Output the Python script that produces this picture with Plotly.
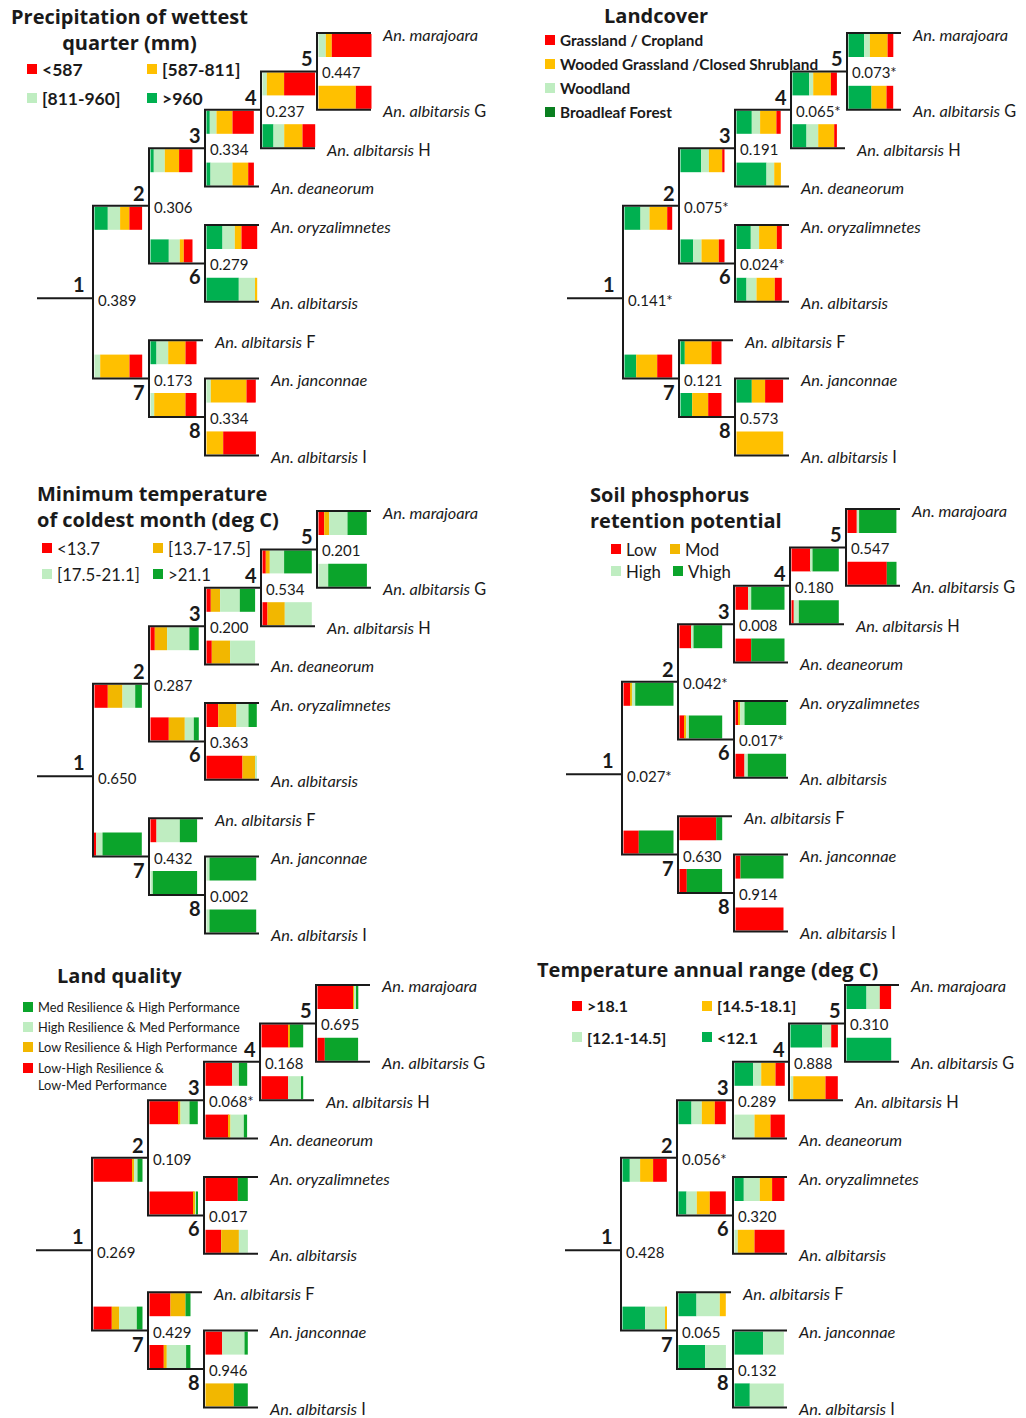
import plotly.graph_objects as go

FIG_W, FIG_H = 1026, 1418

# ---------------- tree topology ----------------
ROOT = 1
TREE_NODES = [1, 2, 3, 4, 5, 6, 7, 8]
TREE_CHILDREN = {
    1: (2, 7),
    2: (3, 6),
    3: (4, "An. deaneorum"),
    4: (5, "An. albitarsis H"),
    5: ("An. marajoara", "An. albitarsis G"),
    6: ("An. oryzalimnetes", "An. albitarsis"),
    7: ("An. albitarsis F", 8),
    8: ("An. janconnae", "An. albitarsis I"),
}
# bar order: for each node 1..8 -> (upper child branch, lower child branch)
BRANCH_ORDER = [(n, c) for n in TREE_NODES for c in TREE_CHILDREN[n]]

# ---------------- data (segment lengths) ----------------
# Precipitation of wettest quarter (mm)
precip_cats = [">960", "[811-960]", "[587-811]", "<587"]
precip_gt960 = [13.3, 0, 3.3, 18.3, 3.3, 4, 0, 11, 0, 0, 16, 32.3, 6, 0, 0, 0]
precip_811_960 = [12.3, 5.7, 11, 11, 6.7, 22, 4.3, 10.7, 7.3, 0, 12.3, 16.7, 11.7, 3.7, 4.3, 0]
precip_587_811 = [9.3, 29.3, 14.3, 4, 16, 15.7, 17.3, 18.3, 6, 37.3, 6.7, 1.7, 17.3, 31.3, 35.7, 16.7]
precip_lt587 = [12.7, 12.7, 13.3, 8.7, 21.3, 5.7, 31, 12.7, 39.7, 15.7, 15.7, 0, 11, 11, 9.3, 32.7]
precip_p = ["0.389", "0.306", "0.334", "0.237", "0.447", "0.279", "0.173", "0.334"]

# Landcover
landcover_cats = ["Broadleaf Forest", "Woodland", "Wooded Grassland /Closed Shrubland", "Grassland / Cropland"]
landcover_forest = [16, 11.7, 20.7, 12.7, 15.3, 30, 16.7, 14, 15.7, 23, 14.3, 10, 4.3, 11.7, 15.3, 0]
landcover_woodland = [9, 0, 7.7, 8.3, 8.3, 7.7, 4, 11.7, 5.7, 0, 8.3, 10, 0, 0, 0, 0]
landcover_wooded = [17.7, 21, 13.3, 17.3, 16.3, 6.7, 17.7, 16, 17.7, 15, 17.7, 18.3, 26.7, 16, 13.3, 46.7]
landcover_grass = [5, 15, 2.3, 5.7, 4.3, 0, 6, 2.7, 5.7, 6.7, 5, 7, 10, 13.3, 18, 0]
landcover_p = ["0.141*", "0.075*", "0.191", "0.065*", "0.073*", "0.024*", "0.121", "0.573"]

# Minimum temperature of coldest month (deg C)
mintemp_cats = ["<13.7", "[13.7-17.5]", "[17.5-21.1]", ">21.1"]
mintemp_lt137 = [13.3, 1.7, 4.3, 18.3, 4.3, 5.3, 3.3, 5, 5.7, 0, 11.7, 36, 6, 0, 0, 0]
mintemp_137_175 = [14.7, 0, 12.3, 16, 9.3, 18.3, 4, 17.3, 5, 0, 18.3, 13.3, 0, 0, 0, 0]
mintemp_175_211 = [12.7, 6.3, 22.3, 9, 19.7, 25, 14.3, 27, 18.3, 9.7, 12, 1, 23.3, 2.3, 3, 3]
mintemp_gt211 = [6.7, 39.3, 9.3, 5, 15.3, 0, 27.7, 0, 19.3, 38.7, 8.3, 0, 17.3, 44.3, 46.7, 46.7]
mintemp_p = ["0.650", "0.287", "0.200", "0.534", "0.201", "0.363", "0.432", "0.002"]

# Soil phosphorus retention potential
soilp_cats = ["Low", "Mod", "High", "Vhigh"]
soilp_low = [6.7, 15.3, 12.3, 5, 12.7, 15.7, 19.3, 2.3, 9.3, 39.3, 3, 9, 36.7, 7.3, 5, 48]
soilp_mod = [1.7, 0, 0, 1.7, 0, 0, 0, 0, 0, 0, 1.7, 0, 0, 0, 0, 0]
soilp_high = [3.3, 0, 1.7, 2.7, 3, 0, 1.7, 5, 2.3, 0, 4.3, 3.3, 0, 0, 0, 0]
soilp_vhigh = [38.3, 34.7, 28.7, 33.3, 33.3, 33.3, 26.3, 40, 37.3, 9.7, 41.7, 38.3, 6, 35.3, 43, 0]
soilp_p = ["0.027*", "0.042*", "0.008", "0.180", "0.547", "0.017*", "0.630", "0.914"]

# Land quality
landq_cats = ["Low-High Resilience &<br>Low-Med Performance", "Low Resilience & High Performance",
              "High Resilience & Med Performance", "Med Resilience & High Performance"]
landq_lowmed = [39, 18.3, 29.3, 44, 26.7, 23.3, 26.7, 26.7, 35.7, 7.3, 32.3, 15.7, 21, 14.3, 16.7, 0]
landq_lowres = [1.7, 7.3, 1.7, 1.7, 0, 1.7, 1.7, 0, 1.7, 0, 0, 17.7, 15, 3, 0, 28.3]
landq_highres = [3.3, 17.7, 9, 1, 6.7, 13.3, 0, 13.3, 1.7, 0, 0, 9, 0, 19.3, 22.3, 0]
landq_medres = [5, 5.7, 8.3, 1.7, 8.3, 3.3, 13.3, 1.7, 1.7, 33.3, 10, 0, 5, 4.3, 3.3, 14]
landq_p = ["0.269", "0.109", "0.068*", "0.168", "0.695", "0.017", "0.429", "0.946"]

# Temperature annual range (deg C)
trange_cats = ["<12.1", "[12.1-14.5]", "[14.5-18.1]", ">18.1"]
trange_lt121 = [7.3, 22.7, 13, 8, 18.7, 0, 31.7, 0, 20, 44.7, 9.3, 0, 18, 26.7, 28.7, 15.3]
trange_121_145 = [10.3, 20, 10.3, 10.3, 8, 20, 9, 2.7, 13.3, 0, 16, 3.3, 23.3, 20.7, 20.7, 34]
trange_145_181 = [13, 1.7, 13, 13, 14.3, 16, 0, 32.3, 0, 0, 12.3, 16.7, 6, 0, 0, 0]
trange_gt181 = [13.7, 0, 11, 16, 9.3, 14.3, 6.7, 12.3, 11.3, 0, 12.3, 30, 0, 0, 0, 0]
trange_p = ["0.428", "0.056*", "0.289", "0.888", "0.310", "0.320", "0.065", "0.132"]

# ---------------- styles ----------------
FONT = "Lato, 'Open Sans', sans-serif"
TITLE_FONT = "'Open Sans', Lato, sans-serif"
INK = "#1a1a1a"
RED = "#FF0000"
ORG = "#FFC000"
ORG2 = "#F2B700"
LGT = "#BFEDC1"
GRN = "#00B050"
GRN2 = "#0BA42B"
DKG = "#0A7F20"

XS = 56          # px per tree depth step
YU = 38.4        # px per leaf slot unit
LEAF_LEN = 54    # leaf branch length
BAR_H = 23
BAR_GAP = 1
BAR_X_PAD = 1.5
ROOT_DROP = 6
TITLE_SIZE = 20

PANELS = [
    dict(ox=0, oy=0, w=513, h=477, x0=93, y0=33,
         title="<b>Precipitation of wettest<br>quarter (mm)</b>", title_xy=(129, 29), title_anchor="center",
         cats=precip_cats, series=[precip_gt960, precip_811_960, precip_587_811, precip_lt587],
         colors=[GRN, LGT, ORG, RED], swatch=None,
         legend=[(3, 32, 69), (2, 152, 69), (1, 32, 98), (0, 152, 98)], lg_size=17.5, lg_bold=True,
         pvals=precip_p),
    dict(ox=513, oy=0, w=513, h=477, x0=110, y0=33,
         title="<b>Landcover</b>", title_xy=(143, 15), title_anchor="center",
         cats=landcover_cats, series=[landcover_forest, landcover_woodland, landcover_wooded, landcover_grass],
         colors=[GRN, LGT, ORG, RED], swatch=[DKG, LGT, ORG, RED],
         legend=[(3, 37, 40), (2, 37, 64), (1, 37, 88), (0, 37, 112)], lg_size=15.3, lg_bold=True,
         pvals=landcover_p),
    dict(ox=0, oy=477, w=513, h=477, x0=93, y0=34,
         title="<b>Minimum temperature<br>of coldest month (deg C)</b>", title_xy=(35, 29), title_anchor="left",
         cats=mintemp_cats, series=[mintemp_lt137, mintemp_137_175, mintemp_175_211, mintemp_gt211],
         colors=[RED, ORG2, LGT, GRN2], swatch=None,
         legend=[(0, 47, 71), (1, 158, 71), (2, 47, 97), (3, 158, 97)], lg_size=16.8, lg_bold=False,
         pvals=mintemp_p),
    dict(ox=513, oy=477, w=513, h=477, x0=109, y0=32,
         title="<b>Soil phosphorus<br>retention potential</b>", title_xy=(75, 30), title_anchor="left",
         cats=soilp_cats, series=[soilp_low, soilp_mod, soilp_high, soilp_vhigh],
         colors=[RED, ORG2, LGT, GRN2], swatch=None,
         legend=[(0, 103, 72), (1, 162, 72), (2, 103, 94), (3, 165, 94)], lg_size=16.8, lg_bold=False,
         pvals=soilp_p),
    dict(ox=0, oy=954, w=513, h=464, x0=92, y0=31,
         title="<b>Land quality</b>", title_xy=(55, 22), title_anchor="left",
         cats=landq_cats, series=[landq_lowmed, landq_lowres, landq_highres, landq_medres],
         colors=[RED, ORG2, LGT, GRN2], swatch=None,
         legend=[(3, 28, 53), (2, 28, 73), (1, 28, 93), (0, 28, 114)], lg_size=12.8, lg_bold=False,
         pvals=landq_p),
    dict(ox=513, oy=954, w=513, h=464, x0=108, y0=31,
         title="<b>Temperature annual range (deg C)</b>", title_xy=(22, 16), title_anchor="left",
         cats=trange_cats, series=[trange_lt121, trange_121_145, trange_145_181, trange_gt181],
         colors=[GRN, LGT, ORG, RED], swatch=None,
         legend=[(3, 64, 52), (2, 194, 52), (1, 64, 83), (0, 194, 83)], lg_size=16, lg_bold=True,
         pvals=trange_p),
]


def is_leaf(n):
    return isinstance(n, str)


def tree_geometry():
    leaves = []

    def walk(n, parent):
        if is_leaf(n):
            leaves.append((n, parent))
        else:
            for c in TREE_CHILDREN[n]:
                walk(c, n)

    walk(ROOT, None)
    pos = {}
    u = 0
    for i, (leaf, par) in enumerate(leaves):
        if i:
            u += 2 if par == leaves[i - 1][1] else 1
        pos[leaf] = u
    depth = {}

    def dwalk(n, d):
        depth[n] = d
        if not is_leaf(n):
            for c in TREE_CHILDREN[n]:
                dwalk(c, d + 1)

    dwalk(ROOT, 0)
    span = {}
    att = {}

    def attach(n):
        if is_leaf(n):
            att[n] = pos[n]
        else:
            a = attach(TREE_CHILDREN[n][0])
            b = attach(TREE_CHILDREN[n][1])
            span[n] = (a, b)
            att[n] = (a + b) / 2
        return att[n]

    attach(ROOT)
    parent = {c: n for n in TREE_NODES for c in TREE_CHILDREN[n]}
    return pos, depth, span, att, parent


def leaf_label(name):
    parts = name.split(" ")
    if len(parts[-1]) == 1:
        return "<i>%s</i> %s" % (" ".join(parts[:-1]), parts[-1])
    return "<i>%s</i>" % name


POS, DEPTH, SPAN, ATT, PARENT = tree_geometry()

fig = go.Figure()
annotations = []
layout_axes = {}

for k, P in enumerate(PANELS, start=1):
    sfx = "" if k == 1 else str(k)
    xa, ya = "x" + sfx, "y" + sfx
    layout_axes["xaxis" + sfx] = dict(domain=[P["ox"] / FIG_W, (P["ox"] + P["w"]) / FIG_W],
                                      range=[0, P["w"]], visible=False, fixedrange=True, anchor=ya)
    layout_axes["yaxis" + sfx] = dict(domain=[1 - (P["oy"] + P["h"]) / FIG_H, 1 - P["oy"] / FIG_H],
                                      range=[P["h"], 0], visible=False, fixedrange=True, anchor=xa)

    X = lambda d, P=P: P["x0"] + d * XS
    Y = lambda u, P=P: P["y0"] + u * YU
    root_y = Y(ATT[ROOT]) + ROOT_DROP

    def ann(x, y, text, size, xanchor="left", yanchor="middle", align="left", color=INK, family=FONT):
        annotations.append(dict(x=x, y=y, xref=xa, yref=ya, text=text, showarrow=False,
                                xanchor=xanchor, yanchor=yanchor, align=align,
                                font=dict(family=family, size=size, color=color)))

    # ---- bars ----
    for j, (series, color) in enumerate(zip(P["series"], P["colors"])):
        ys, xs, bases = [], [], []
        for b, (n, c) in enumerate(BRANCH_ORDER):
            v = series[b]
            if v <= 0:
                continue
            start = X(DEPTH[n]) + BAR_X_PAD + sum(P["series"][i][b] for i in range(j))
            yl = Y(ATT[c])
            upper = TREE_CHILDREN[n][0] == c
            yc = yl + BAR_GAP + BAR_H / 2 if upper else yl - BAR_GAP - BAR_H / 2
            ys.append(yc)
            xs.append(v)
            bases.append(start)
        fig.add_trace(go.Bar(orientation="h", y=ys, x=xs, base=bases, width=BAR_H,
                             marker=dict(color=color, line=dict(width=0)),
                             xaxis=xa, yaxis=ya, hoverinfo="skip", showlegend=False,
                             name=P["cats"][j].replace("<br>", " ")))

    # ---- tree lines ----
    lx, ly = [], []
    lx += [X(0) - XS, X(0), None]
    ly += [root_y, root_y, None]
    for n in TREE_NODES:
        xn = X(DEPTH[n])
        up, lo = TREE_CHILDREN[n]
        xe_up = X(DEPTH[up]) if not is_leaf(up) else xn + LEAF_LEN
        xe_lo = X(DEPTH[lo]) if not is_leaf(lo) else xn + LEAF_LEN
        lx += [xe_up, xn, xn, xe_lo, None]
        ly += [Y(ATT[up]), Y(ATT[up]), Y(ATT[lo]), Y(ATT[lo]), None]
    fig.add_trace(go.Scatter(x=lx, y=ly, mode="lines", line=dict(color=INK, width=2),
                             xaxis=xa, yaxis=ya, hoverinfo="skip", showlegend=False))

    # ---- node numbers & p-values ----
    for i, n in enumerate(TREE_NODES):
        xn = X(DEPTH[n])
        if n == ROOT:
            ann(xn - 14, root_y - 14, "<b>%d</b>" % n, 20, xanchor="center")
            ann(xn + 3, root_y + 2, P["pvals"][i], 15)
        else:
            upper = TREE_CHILDREN[PARENT[n]][0] == n
            ann(xn - 10, Y(ATT[n]) + (-13 if upper else 13), "<b>%d</b>" % n, 20, xanchor="center")
            ann(xn + 3, Y(ATT[n]) + 1, P["pvals"][i], 15)

    # ---- species labels ----
    for leaf, u in POS.items():
        xe = X(DEPTH[PARENT[leaf]]) + LEAF_LEN
        ann(xe + 9, Y(u) + 1, leaf_label(leaf), 16.3)

    # ---- title ----
    tx, ty = P["title_xy"]
    ann(tx, ty, P["title"], TITLE_SIZE, xanchor=P["title_anchor"],
        align="center" if P["title_anchor"] == "center" else "left", family=TITLE_FONT)

    # ---- legend ----
    sw_cols = P["swatch"] or P["colors"]
    for idx, sx, sy in P["legend"]:
        fig.add_trace(go.Scatter(x=[sx], y=[sy], mode="markers",
                                 marker=dict(symbol="square", size=10, color=sw_cols[idx], line=dict(width=0)),
                                 xaxis=xa, yaxis=ya, hoverinfo="skip", showlegend=False))
        label = P["cats"][idx]
        txt = "<b>%s</b>" % label if P["lg_bold"] else label
        if "<br>" in label:
            ann(sx + 8, sy - P["lg_size"] * 0.75, txt, P["lg_size"], yanchor="top")
        else:
            ann(sx + 8, sy, txt, P["lg_size"])

fig.update_layout(
    width=FIG_W, height=FIG_H,
    margin=dict(l=0, r=0, t=0, b=0),
    paper_bgcolor="white", plot_bgcolor="rgba(0,0,0,0)",
    barmode="overlay", showlegend=False,
    annotations=annotations,
    **layout_axes,
)

fig.write_html("out.html", config={"displayModeBar": False},
               post_script="document.body.style.margin='0';document.body.style.overflow='hidden';")
